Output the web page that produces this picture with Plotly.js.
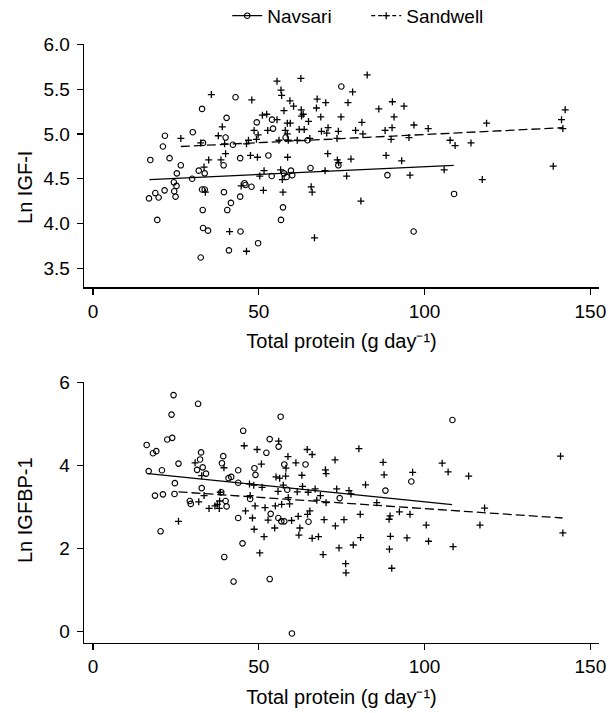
<!DOCTYPE html>
<html>
<head>
<meta charset="utf-8">
<script src="https://cdn.plot.ly/plotly-3.0.1.min.js"></script>
<style>html,body{margin:0;padding:0;background:#fff;}#chart{width:615px;height:713px;}</style>
</head>
<body>
<div id="chart"></div>
<script>
// ---------- Data ----------
const groupNames = ["Navsari", "Sandwell"];
const xTicks = [0, 50, 100, 150];
const igfTicks = [3.5, 4.0, 4.5, 5.0, 5.5, 6.0];
const igfbpTicks = [0, 2, 4, 6];
const xTitle = "Total protein (g day\u207B\u00B9)";
const igfTitle = "Ln IGF-I";
const igfbpTitle = "Ln IGFBP-1";

// Panel 1: Ln IGF-I vs total protein
const navIgfX = [74.9,43.0,32.9,40.3,54.0,49.4,54.3,21.7,30.1,40.0,58.1,21.1,33.2,42.2,64.7,17.3,23.1,44.4,52.9,26.5,39.4,31.9,25.3,33.7,29.9,53.9,57.6,58.4,60.1,59.7,65.6,74.0,24.4,25.2,21.6,18.8,16.9,19.8,24.5,24.9,32.9,33.7,45.7,46.0,47.8,39.5,44.4,41.6,40.5,33.1,19.4,57.3,56.7,33.2,34.7,44.5,49.8,41.0,32.5,88.8,108.9,96.7];
const navIgfY = [5.53,5.41,5.28,5.18,5.16,5.13,5.06,4.98,5.02,4.96,4.96,4.86,4.90,4.88,4.93,4.71,4.73,4.73,4.76,4.65,4.65,4.59,4.56,4.56,4.50,4.53,4.56,4.52,4.54,4.59,4.62,4.65,4.46,4.42,4.37,4.34,4.28,4.29,4.36,4.30,4.38,4.38,4.45,4.43,4.41,4.35,4.30,4.23,4.15,4.15,4.04,4.18,4.04,3.95,3.92,3.91,3.78,3.70,3.62,4.54,4.33,3.91];
const sanIgfX = [55.5,62.7,56.7,56.9,35.7,47.9,67.6,70.2,59.4,76.9,60.5,57.6,62.8,67.4,51.1,52.4,63.4,62.9,68.7,74.8,55.5,65.0,58.6,59.5,39.0,70.9,62.2,63.7,58.0,48.6,52.7,68.9,74.0,70.5,58.6,49.8,37.8,26.5,46.9,49.3,58.9,61.6,65.4,56.1,73.6,32.5,39.7,46.3,40.0,70.8,47.5,49.6,58.7,34.9,38.6,73.7,74.1,33.5,51.6,56.6,70.0,50.3,57.1,76.5,44.7,65.8,66.1,33.9,51.4,57.3,41.2,66.8,46.3,82.7,78.3,90.3,86.2,93.8,90.8,81.1,96.8,118.7,142.4,141.3,141.7,79.2,81.4,88.1,90.2,101.1,89.9,95.3,107.7,109.2,114.0,77.8,88.4,93.1,95.6,105.9,117.4,138.8,80.8];
const sanIgfY = [5.59,5.62,5.49,5.43,5.44,5.38,5.39,5.35,5.37,5.35,5.31,5.26,5.27,5.29,5.21,5.22,5.22,5.20,5.19,5.19,5.16,5.14,5.12,5.12,5.08,5.07,5.05,5.05,5.04,5.04,5.04,5.03,5.03,5.01,5.00,4.99,4.98,4.95,4.93,4.94,4.93,4.93,4.95,4.93,4.95,4.90,4.89,4.89,4.78,4.78,4.76,4.74,4.74,4.71,4.71,4.71,4.68,4.63,4.59,4.60,4.59,4.53,4.49,4.53,4.42,4.41,4.35,4.35,4.37,4.35,3.91,3.84,3.69,5.66,5.47,5.36,5.28,5.31,5.19,5.13,5.10,5.12,5.27,5.16,5.06,5.04,5.00,5.04,5.07,5.06,4.94,4.96,4.93,4.87,4.90,4.72,4.76,4.70,4.54,4.60,4.49,4.64,4.25];
const navIgfFitX = [17.0, 108.8];
const navIgfFitY = [4.49, 4.65];
const sanIgfFitX = [26.5, 141.8];
const sanIgfFitY = [4.86, 5.07];

// Panel 2: Ln IGFBP-1 vs total protein
const navBpX = [24.3,31.7,23.7,56.6,45.3,22.4,23.9,16.2,53.3,56.0,18.1,19.1,32.6,52.3,39.3,32.3,25.8,38.9,31.4,33.1,16.8,20.8,43.8,48.7,57.7,64.1,49.0,34.1,24.7,32.8,40.9,41.7,43.8,18.7,21.1,24.6,38.7,29.2,29.5,40.0,40.3,47.4,58.6,43.8,53.6,55.9,56.8,57.7,65.0,74.4,20.4,45.1,39.6,42.4,53.3,108.4,96.0,88.2,60.0];
const navBpY = [5.69,5.48,5.22,5.17,4.83,4.62,4.66,4.49,4.63,4.45,4.29,4.34,4.31,4.30,4.22,4.14,4.04,4.05,3.89,3.95,3.86,3.88,3.88,3.93,4.02,4.02,3.77,3.80,3.57,3.45,3.69,3.72,3.58,3.27,3.30,3.31,3.35,3.14,3.07,3.14,3.01,3.19,3.41,2.73,2.83,2.73,2.65,2.65,2.64,3.21,2.41,2.12,1.79,1.20,1.26,5.09,3.61,3.39,-0.05];
const sanBpX = [45.6,49.5,56.0,64.6,66.1,58.8,61.2,50.8,30.8,39.5,58.2,63.0,70.1,70.3,73.0,55.2,56.3,58.1,32.8,47.2,48.5,51.0,57.4,63.2,67.0,73.5,55.8,61.6,64.9,68.6,58.9,67.5,70.3,47.4,38.4,33.5,31.9,38.2,35.0,36.8,37.5,38.1,48.9,51.9,55.0,56.9,59.3,46.0,48.1,52.8,59.9,61.9,64.7,65.4,69.7,75.7,62.4,73.1,48.6,54.8,51.6,62.1,66.1,68.0,74.2,50.3,69.4,76.2,25.8,80.2,87.5,87.8,96.4,105.3,107.1,113.3,141.0,82.2,77.2,77.8,85.6,80.6,89.6,89.3,92.4,95.6,118.1,100.5,116.7,141.7,80.7,78.5,89.7,94.7,101.2,89.4,108.6,90.1,76.3];
const sanBpY = [4.47,4.38,4.58,4.38,4.26,4.21,4.06,4.03,4.06,3.94,3.93,3.76,3.89,3.80,4.13,3.72,3.69,3.74,3.75,3.55,3.52,3.47,3.52,3.49,3.43,3.43,3.37,3.36,3.35,3.27,3.22,3.16,3.10,3.27,3.35,3.27,3.12,3.14,2.96,3.02,3.06,2.96,3.02,2.98,3.02,3.06,3.07,2.90,2.73,2.68,2.67,2.77,2.82,2.90,2.69,2.69,2.49,2.54,2.46,2.49,2.28,2.32,2.24,2.28,2.01,1.89,1.85,1.63,2.65,4.40,4.07,3.77,3.83,4.05,3.84,3.74,4.22,3.53,3.39,3.31,3.10,2.82,2.78,2.70,2.88,2.82,2.97,2.56,2.56,2.37,2.26,2.08,2.29,2.25,2.17,1.98,2.04,1.52,1.41];
const navBpFitX = [16.7, 108.3];
const navBpFitY = [3.80, 3.05];
const sanBpFitX = [25.8, 141.6];
const sanBpFitY = [3.36, 2.73];

// ---------- Styles ----------
const FONT = "'Liberation Sans', Arial, Helvetica, sans-serif";
const INK = "#000000";
const navMarker = {symbol: "circle-open", size: 5.5, color: INK, line: {width: 1.1, color: INK}};
const sanMarker = {symbol: "cross-thin-open", size: 5, color: INK, line: {width: 1.3, color: INK}};
const navLine = {color: INK, width: 1.3, dash: "solid"};
const sanLine = {color: INK, width: 1.3, dash: "9px,4px"};

function pts(x, y, marker, xa, ya, grp) {
  return {type: "scatter", mode: "markers", x: x, y: y, marker: marker,
          xaxis: xa, yaxis: ya, showlegend: false, legendgroup: grp, hoverinfo: "x+y"};
}
function fit(x, y, line, xa, ya, grp) {
  return {type: "scatter", mode: "lines", x: x, y: y, line: line,
          xaxis: xa, yaxis: ya, showlegend: false, legendgroup: grp, hoverinfo: "skip"};
}

const traces = [
  pts(navIgfX, navIgfY, navMarker, "x", "y", "nav"),
  pts(sanIgfX, sanIgfY, sanMarker, "x", "y", "san"),
  fit(navIgfFitX, navIgfFitY, navLine, "x", "y", "nav"),
  fit(sanIgfFitX, sanIgfFitY, sanLine, "x", "y", "san"),
  pts(navBpX, navBpY, navMarker, "x2", "y2", "nav"),
  pts(sanBpX, sanBpY, sanMarker, "x2", "y2", "san"),
  fit(navBpFitX, navBpFitY, navLine, "x2", "y2", "nav"),
  fit(sanBpFitX, sanBpFitY, sanLine, "x2", "y2", "san"),
  // legend entries
  {type: "scatter", mode: "lines+markers", x: [null], y: [null], name: groupNames[0],
   line: navLine, marker: navMarker, legendgroup: "nav", showlegend: true},
  {type: "scatter", mode: "lines+markers", x: [null], y: [null], name: groupNames[1],
   line: {color: INK, width: 1.3, dash: "4px,3px"}, marker: sanMarker, legendgroup: "san", showlegend: true}
];

const tickFont = {family: FONT, size: 19, color: INK};
const titleFont = {family: FONT, size: 20, color: INK};

const xAxisBase = {
  range: [-2.7, 152.6], tickvals: xTicks, ticktext: xTicks.map(String),
  showline: true, linecolor: INK, linewidth: 1.4, mirror: false,
  ticks: "outside", ticklen: 6, tickwidth: 1.2, tickcolor: INK,
  showgrid: false, zeroline: false, fixedrange: true, automargin: false,
  tickfont: tickFont,
  title: {text: xTitle, font: titleFont, standoff: 13}
};
const yAxisBase = {
  showline: true, linecolor: INK, linewidth: 1.4, mirror: false,
  ticks: "outside", ticklen: 6, tickwidth: 1.2, tickcolor: INK,
  showgrid: false, zeroline: false, fixedrange: true, automargin: false,
  tickfont: tickFont, ticklabelstandoff: 3
};

const layout = {
  width: 615, height: 713,
  margin: {l: 84, r: 16, t: 44, b: 70, autoexpand: false},
  paper_bgcolor: "#ffffff", plot_bgcolor: "#ffffff",
  font: {family: FONT, color: INK, size: 19},
  showlegend: true,
  legend: {orientation: "h", x: 0.548, xanchor: "center", y: 1.047, yanchor: "middle",
           font: {family: FONT, size: 19, color: INK}, bgcolor: "rgba(0,0,0,0)",
           entrywidth: 94, entrywidthmode: "pixels", tracegroupgap: 0},
  xaxis: Object.assign({}, xAxisBase, {domain: [0, 1], anchor: "y"}),
  yaxis: Object.assign({}, yAxisBase, {domain: [0.5935, 1], anchor: "x",
           range: [3.285, 6.005], tickvals: igfTicks, ticktext: igfTicks.map(v => v.toFixed(1))}),
  xaxis2: Object.assign({}, xAxisBase, {domain: [0, 1], anchor: "y2"}),
  yaxis2: Object.assign({}, yAxisBase, {domain: [0, 0.4357], anchor: "x2",
           range: [-0.28, 6.005], tickvals: igfbpTicks, ticktext: igfbpTicks.map(String)}),
  annotations: [
    {text: igfTitle, xref: "paper", yref: "paper", x: -0.1146, y: 0.7613, xanchor: "center", yanchor: "middle",
     textangle: -90, showarrow: false, font: titleFont},
    {text: igfbpTitle, xref: "paper", yref: "paper", x: -0.1146, y: 0.222, xanchor: "center", yanchor: "middle",
     textangle: -90, showarrow: false, font: titleFont}
  ]
};

Plotly.newPlot("chart", traces, layout, {displayModeBar: false, staticPlot: true});
</script>
</body>
</html>
